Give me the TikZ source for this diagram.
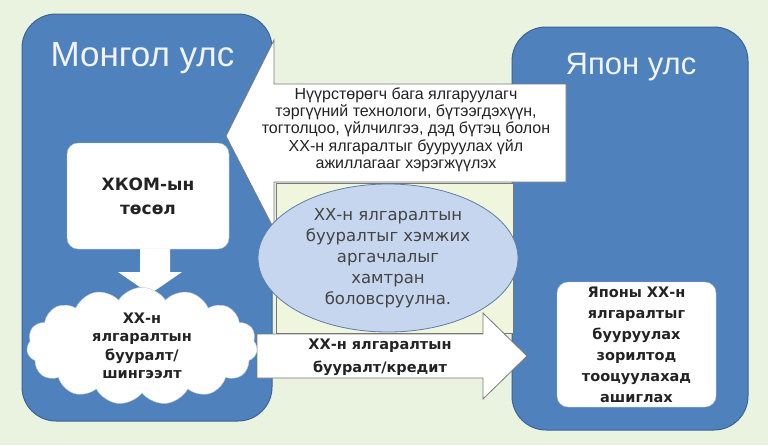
\documentclass[tikz,border=0pt]{standalone}
\usepackage{fontspec}
\setmainfont{Liberation Sans}
\newfontfamily\dvs{DejaVu Sans}
\usetikzlibrary{shapes.symbols,shapes.geometric}
\definecolor{bgc}{RGB}{233,243,224}
\definecolor{paleg}{RGB}{240,246,222}
\definecolor{cblue}{RGB}{79,129,189}
\definecolor{cbord}{RGB}{60,100,150}
\definecolor{ellf}{RGB}{198,214,238}
\definecolor{ellb}{RGB}{95,125,165}
\definecolor{grayl}{RGB}{120,120,120}
\definecolor{titc}{RGB}{240,244,250}
\definecolor{txtc}{RGB}{35,35,35}
\tikzset{
  country/.style={draw=cbord, line width=1pt, fill=cblue, rounded corners=34pt, inner sep=0pt},
  titletext/.style={text=titc, inner sep=0pt, anchor=base},
  wbox/.style={fill=white, draw=cbord!40, rounded corners=11pt, inner sep=0pt, align=center, text=txtc,
               font=\dvs\bfseries\fontsize{14.5}{21}\selectfont},
  blockarrow/.style={fill=white, draw=grayl, line width=0.8pt},
  boldtxt/.style={align=center, text=txtc, inner sep=0pt, font=\dvs\bfseries\fontsize{14.5}{23}\selectfont},
}
\begin{document}
\begin{tikzpicture}[x=1pt,y=-1pt]
\fill[bgc] (0,0) rectangle (768,445);
\useasboundingbox (0,0) rectangle (768,445);

% country containers
\node[country, minimum width=250pt, minimum height=407pt] (mon) at (147,217.5) {};
\node[titletext, font=\fontsize{35}{38}\selectfont] (montitle) at (142.5,66) {Монгол улс};
\node[country, minimum width=236pt, minimum height=403pt] (jap) at (630,228.5) {};
\node[titletext, font=\fontsize{31}{34}\selectfont] (japtitle) at (631,74) {Япон улс};

% panel behind ellipse
\node[draw=grayl, fill=paleg, line width=0.8pt, minimum width=237pt, minimum height=150pt, inner sep=0pt] (panel) at (394.5,258) {};

% top block arrow (Japan -> Mongolia)
\draw[blockarrow] (226,136) -- (274,40) -- (274,84) -- (566,84) -- (566,182) -- (274,182) -- (274,229) -- cycle;
\node[align=center, text=txtc, inner sep=0pt, font=\fontsize{16}{17.3}\selectfont] (toptext) at (406,129.5)
  {Нүүрстөрөгч бага ялгаруулагч\\тэргүүний технологи, бүтээгдэхүүн,\\тогтолцоо, үйлчилгээ, дэд бүтэц болон\\ХХ-н ялгаралтыг бууруулах үйл\\ажиллагааг хэрэгжүүлэх};

% ellipse
\node[ellipse, draw=ellb, fill=ellf, line width=0.8pt, minimum width=260pt, minimum height=148pt, inner sep=0pt,
      align=center, text=txtc!85, font=\dvs\fontsize{16.5}{21}\selectfont] (ell) at (388,258)
  {ХХ-н ялгаралтын\\бууралтыг хэмжих\\аргачлалыг\\хамтран\\боловсруулна.};

% bottom block arrow (Mongolia -> Japan)
\draw[blockarrow] (257,334) -- (483,334) -- (483,313) -- (527,356) -- (483,399) -- (483,378) -- (257,378) -- cycle;
\node[boldtxt] (bottext) at (380,357) {ХХ-н ялгаралтын\\бууралт/кредит};

% Mongolia inner items
\node[wbox, minimum width=162pt, minimum height=106pt, font=\dvs\bfseries\fontsize{17}{24}\selectfont] (hkom) at (148,196) {ХКОМ-ын\\төсөл};
\fill[white] (140,249) -- (170,249) -- (170,272) -- (182,272) -- (150,294) -- (118,272) -- (140,272) -- cycle;
\node[cloud, cloud puffs=15, cloud puff arc=115, aspect=2.4, draw=cbord!35, fill=white, inner sep=0pt,
      minimum width=226pt, minimum height=98pt, align=center, text=txtc,
      font=\dvs\bfseries\fontsize{14.5}{18.5}\selectfont] (cloud) at (142,346)
  {ХХ-н\\ялгаралтын\\бууралт/\\шингээлт};

% Japan inner box
\node[wbox, minimum width=159pt, minimum height=125pt] (jbox) at (636.5,344.5)
  {Японы ХХ-н\\ялгаралтыг\\бууруулах\\зорилтод\\тооцуулахад\\ашиглах};
\end{tikzpicture}
\end{document}
